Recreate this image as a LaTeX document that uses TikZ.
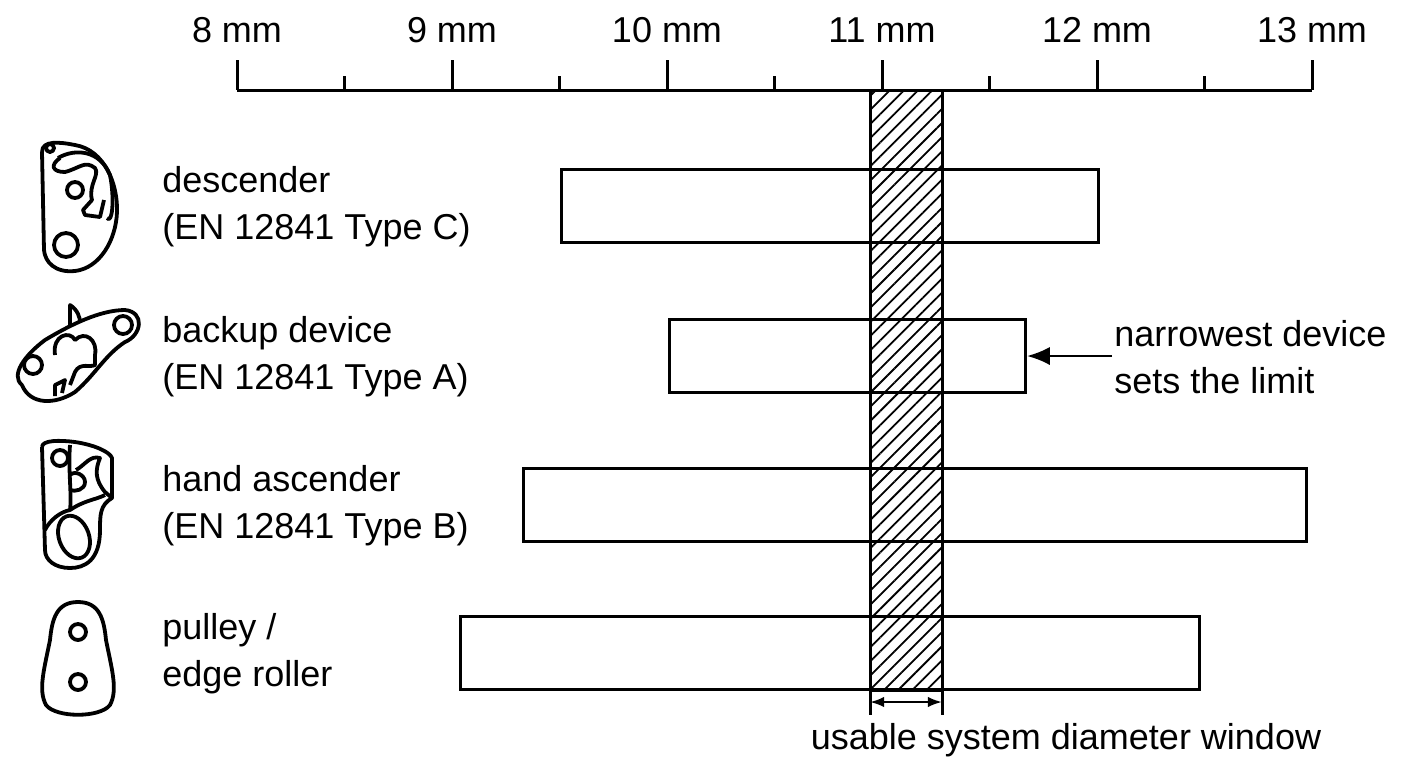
\documentclass[tikz,border=0pt]{standalone}
\usepackage{fontspec}
\setmainfont{Liberation Sans}
\usetikzlibrary{arrows.meta,positioning,patterns.meta}
\tikzset{
  bar/.style={draw=black,line width=1.5pt,anchor=north west,minimum height=36.5pt,inner sep=0pt},
  lbl/.style={align=left,anchor=west,font=\fontsize{18}{23.5}\selectfont,inner sep=1pt},
  scalelbl/.style={font=\fontsize{18}{22}\selectfont},
  icon/.style={line width=1.9pt,line join=round},
  arrow/.style={-{Latex[length=4mm,width=3.2mm]},line width=1.3pt,draw=black}
}
\begin{document}
\begin{tikzpicture}[x=0.5pt,y=-0.5pt]
  \useasboundingbox (0,0) rectangle (1408,768);

  % scale
  \draw[line width=1.5pt] (237,90) -- (1312,90);
  \foreach \i/\m in {0/8,1/9,2/10,3/11,4/12,5/13}{
    \draw[line width=1.5pt] (237+215*\i,60) -- (237+215*\i,90);
    \node[scalelbl] (mm\m) at (237+215*\i,30) {\m\ mm};
  }
  \foreach \i in {0,...,4}
    \draw[line width=1.5pt] (344.5+215*\i,76) -- (344.5+215*\i,90);

  % device bars
  \node (bdesc) [bar,minimum width=268.5pt] at (560,168) {};
  \node (bbackup) [bar,minimum width=178pt] at (668,318) {};
  \node (basc) [bar,minimum width=391.5pt] at (522,467) {};
  \node (bpulley) [bar,minimum width=369.5pt] at (459,615) {};

  % usable window
  \draw[line width=1.5pt,pattern={Lines[angle=45,distance=5pt,line width=0.9pt]}] (870,90) rectangle (942,690);
  \draw[line width=1.5pt] (870,690) -- (870,715) (942,690) -- (942,715);
  \coordinate (wl) at (870,702);
  \coordinate (wr) at (942,702);
  \draw[{Latex[length=2.5mm]}-{Latex[length=2.5mm]},line width=1.2pt] (wl) -- (wr);
  \node[scalelbl] (window) at (1066,740) {usable system diameter window};

  % labels
  \node (ldesc) [lbl] at (160,207) {descender\\(EN 12841 Type C)};
  \node (lbackup) [lbl] at (160,357) {backup device\\(EN 12841 Type A)};
  \node (lasc) [lbl] at (160,506) {hand ascender\\(EN 12841 Type B)};
  \node (lpulley) [lbl] at (160,654) {pulley /\\edge roller};

  \node (limit) [lbl] at (1112,357) {narrowest device\\sets the limit};
  \draw[arrow] (limit.west |- bbackup.east) -- (bbackup.east);

  % icons
  % descender
  \draw[icon] (42,152) .. controls (42,140) and (60,142) .. (75,145)
    .. controls (105,150) and (118,185) .. (117,212)
    .. controls (116,240) and (100,268) .. (75,271)
    .. controls (55,273) and (45,262) .. (44,250) -- (42,152);
  \draw[icon] (50,148) circle (4);
  \draw[icon] (75,190) circle (8);
  \draw[icon] (66,245) circle (12);
  \draw[icon] (60,158) .. controls (50,165) and (52,172) .. (65,172)
    .. controls (80,168) and (85,160) .. (95,168) .. controls (100,175) and (88,185) .. (92,200)
    -- (83,210) -- (85,215) -- (100,217) -- (104,200);
  \draw[icon] (58,158) .. controls (75,148) and (100,150) .. (110,175) .. controls (115,200) and (112,225) .. (107,218);
  % backup device
  \draw[icon] (22,385) .. controls (10,375) and (25,355) .. (45,340)
    .. controls (70,325) and (100,310) .. (125,310)
    .. controls (145,312) and (142,335) .. (125,342)
    .. controls (105,355) and (95,375) .. (75,392)
    .. controls (55,405) and (30,405) .. (22,385);
  \draw[icon] (33,365) circle (9);
  \draw[icon] (123,325) circle (9);
  \draw[icon] (70,325) -- (70,305) .. controls (78,310) and (80,318) .. (80,322);
  \draw[icon] (55,355) .. controls (52,335) and (70,330) .. (75,340) .. controls (85,330) and (98,340) .. (95,355)
    -- (95,365) .. controls (90,368) and (80,362) .. (75,372) -- (70,385);
  \draw[icon] (55,396) -- (55,385) -- (65,380) -- (62,393);
  % hand ascender
  \draw[icon] (42,447) .. controls (42,440) and (60,440) .. (75,442)
    .. controls (95,445) and (110,452) .. (112,458) -- (112,498)
    .. controls (100,505) and (100,515) .. (100,530)
    .. controls (100,560) and (85,568) .. (70,568)
    .. controls (55,568) and (45,560) .. (45,550) -- (42,447);
  \draw[icon] (60,458) circle (8);
  \draw[icon, rotate around={20:(74,537)}] (74,537) ellipse (15 and 22);
  \draw[icon] (70,445) .. controls (68,470) and (72,495) .. (70,510) .. controls (60,512) and (50,520) .. (45,530);
  \draw[icon] (70,475) .. controls (75,470) and (85,475) .. (85,482) .. controls (85,490) and (75,492) .. (70,490);
  \draw[icon] (76,470) .. controls (85,465) and (90,455) .. (100,458) .. controls (95,470) and (95,480) .. (105,492) -- (112,498);
  \draw[icon] (70,510) .. controls (85,500) and (95,500) .. (105,495);
  % pulley
  \draw[icon] (78,602) .. controls (100,602) and (104,620) .. (106,640)
    .. controls (112,670) and (118,690) .. (110,705)
    .. controls (100,718) and (56,718) .. (46,705)
    .. controls (38,690) and (44,670) .. (50,640)
    .. controls (52,620) and (56,602) .. (78,602);
  \draw[icon] (78,632) circle (8);
  \draw[icon] (78,682) circle (8);
\end{tikzpicture}
\end{document}
